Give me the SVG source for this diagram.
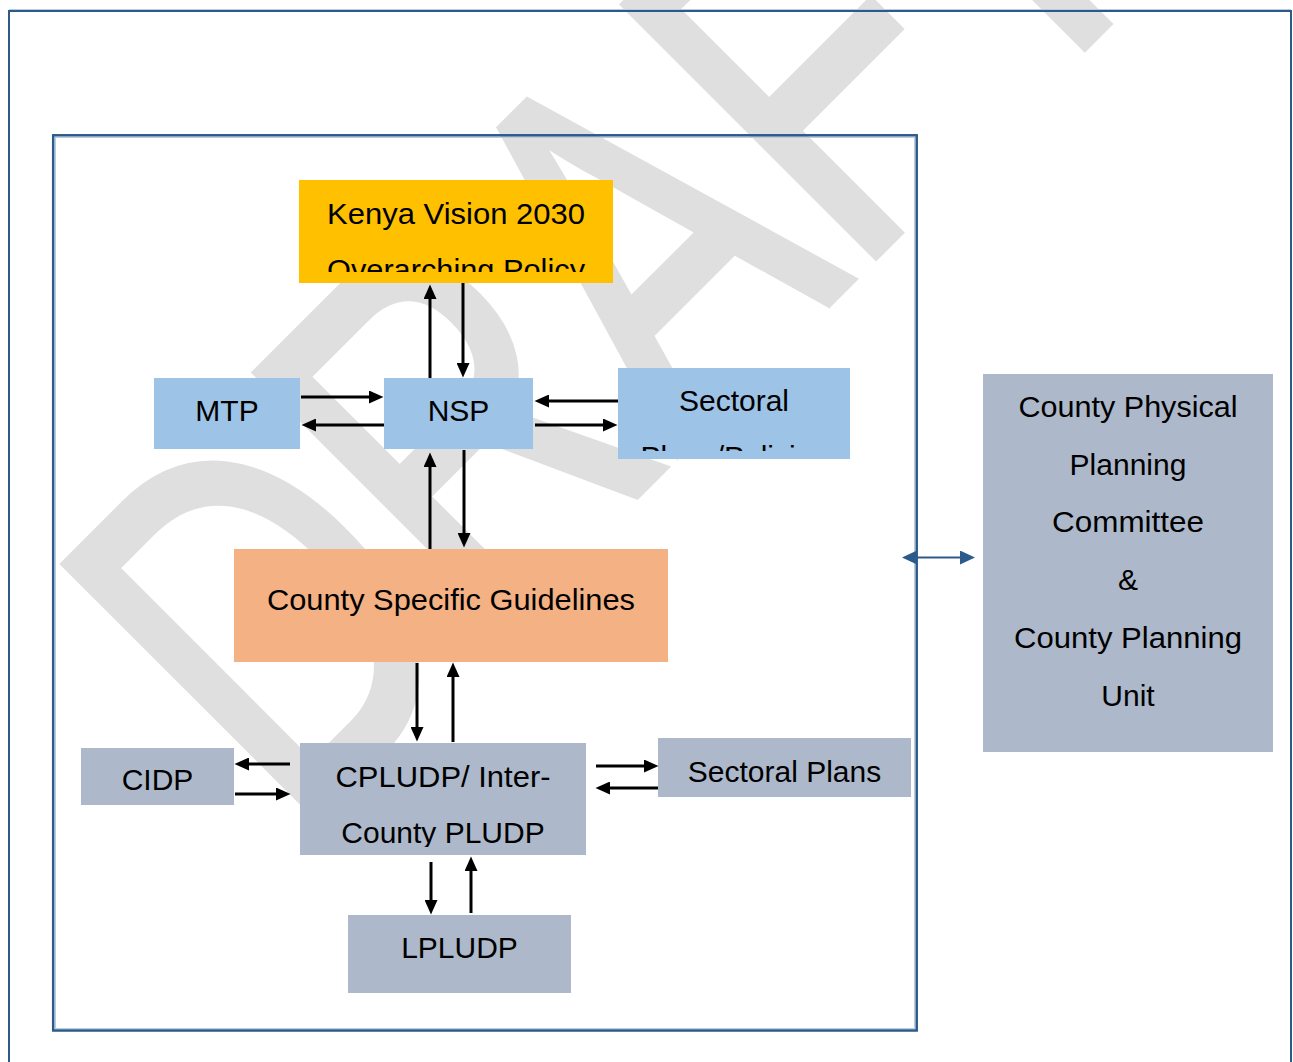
<svg xmlns="http://www.w3.org/2000/svg" width="1293" height="1062" viewBox="0 0 1293 1062">
<style>
.lbl{font-family:"Liberation Sans",Arial,sans-serif;font-size:30px;fill:#000;text-anchor:middle}
.conn{stroke:#000;stroke-width:3;fill:none;marker-end:url(#ah)}
.frame{fill:none;stroke:#2c5a8a}
</style>
<defs>
<marker id="ah" markerWidth="15" markerHeight="13" refX="6" refY="6.5" orient="auto" markerUnits="userSpaceOnUse"><path d="M0,0 L14.5,6.5 L0,13 z" fill="#000"/></marker>
<marker id="bh" markerWidth="15" markerHeight="14" refX="7" refY="7" orient="auto-start-reverse" markerUnits="userSpaceOnUse"><path d="M0,0 L15,7 L0,14 z" fill="#2c5a8a"/></marker>
<clipPath id="cKenya"><rect x="299" y="180" width="314" height="92"/></clipPath>
<clipPath id="cSect"><rect x="618" y="368" width="232" height="83"/></clipPath>
<clipPath id="cCpl"><rect x="300" y="743" width="286" height="104"/></clipPath>
</defs>
<rect width="1293" height="1062" fill="#fff"/>
<g id="watermark">
<text transform="translate(294 838) rotate(-45) scale(0.725 1)" font-family="Liberation Sans" font-size="517" fill="#dfdfdf" stroke="#dfdfdf" stroke-width="8">DRAFT</text>
</g>
<g id="frames">
<line x1="9" y1="9.5" x2="1291" y2="9.5" stroke="#b8cbe0" stroke-width="1"/>
<path class="frame" d="M9,1062 V11 H1291 V1062" stroke-width="2"/>
<rect class="frame" x="53.2" y="135.3" width="863.5" height="895.2" stroke-width="2.5"/>
<rect x="55.5" y="137.5" width="859" height="891" fill="none" stroke="#b8cbe0" stroke-width="1"/>
</g>
<g id="node-kenya">
<rect x="299" y="180" width="314" height="103" fill="#FFC000"/>
<g clip-path="url(#cKenya)">
<text class="lbl" x="456" y="224" textLength="258" lengthAdjust="spacingAndGlyphs">Kenya Vision 2030</text>
<text class="lbl" x="456" y="279.5" textLength="258" lengthAdjust="spacingAndGlyphs">Overarching Policy</text>
</g>
</g>
<g id="node-mtp">
<rect x="154" y="378" width="146" height="71" fill="#9DC3E6"/>
<text class="lbl" x="227" y="421">MTP</text>
</g>
<g id="node-nsp">
<rect x="384" y="378" width="149" height="71" fill="#9DC3E6"/>
<text class="lbl" x="458.5" y="421">NSP</text>
</g>
<g id="node-sectoral-policies">
<rect x="618" y="368" width="232" height="91" fill="#9DC3E6"/>
<g clip-path="url(#cSect)">
<text class="lbl" x="734" y="411">Sectoral</text>
<text class="lbl" x="734" y="466.5">Plans/Policies</text>
</g>
</g>
<g id="node-csg">
<rect x="234" y="549" width="434" height="113" fill="#F4B183"/>
<text class="lbl" x="451" y="610" textLength="368" lengthAdjust="spacingAndGlyphs">County Specific Guidelines</text>
</g>
<g id="node-cidp">
<rect x="81" y="748" width="153" height="57" fill="#ADB9CA"/>
<text class="lbl" x="157.5" y="790">CIDP</text>
</g>
<g id="node-cpludp">
<rect x="300" y="743" width="286" height="112" fill="#ADB9CA"/>
<g clip-path="url(#cCpl)">
<text class="lbl" x="443" y="787" textLength="215" lengthAdjust="spacingAndGlyphs">CPLUDP/ Inter-</text>
<text class="lbl" x="443" y="842.5">County PLUDP</text>
</g>
</g>
<g id="node-sectoral-plans">
<rect x="658" y="738" width="253" height="59" fill="#ADB9CA"/>
<text class="lbl" x="784.5" y="782">Sectoral Plans</text>
</g>
<g id="node-lpludp">
<rect x="348" y="915" width="223" height="78" fill="#ADB9CA"/>
<text class="lbl" x="459.5" y="958">LPLUDP</text>
</g>
<g id="node-committee">
<rect x="983" y="374" width="290" height="378" fill="#ADB9CA"/>
<text class="lbl" x="1128" y="417" textLength="219" lengthAdjust="spacingAndGlyphs">County Physical</text>
<text class="lbl" x="1128" y="475">Planning</text>
<text class="lbl" x="1128" y="532" textLength="152" lengthAdjust="spacingAndGlyphs">Committee</text>
<text class="lbl" x="1128" y="590">&amp;</text>
<text class="lbl" x="1128" y="648" textLength="228" lengthAdjust="spacingAndGlyphs">County Planning</text>
<text class="lbl" x="1128" y="706">Unit</text>
</g>
<g id="connectors">
<line class="conn" x1="430" y1="378" x2="430" y2="293"/>
<line class="conn" x1="463" y1="283" x2="463" y2="369"/>
<line class="conn" x1="301" y1="397" x2="375" y2="397"/>
<line class="conn" x1="384" y1="425" x2="310" y2="425"/>
<line class="conn" x1="618" y1="401" x2="543" y2="401"/>
<line class="conn" x1="535" y1="425" x2="609" y2="425"/>
<line class="conn" x1="430" y1="549" x2="430" y2="461"/>
<line class="conn" x1="464" y1="450" x2="464" y2="539"/>
<line class="conn" x1="417" y1="663" x2="417" y2="733"/>
<line class="conn" x1="453" y1="742" x2="453" y2="671"/>
<line class="conn" x1="290" y1="764" x2="243" y2="764"/>
<line class="conn" x1="235" y1="794" x2="282" y2="794"/>
<line class="conn" x1="596" y1="766" x2="650" y2="766"/>
<line class="conn" x1="658" y1="788" x2="604" y2="788"/>
<line class="conn" x1="431" y1="862" x2="431" y2="906"/>
<line class="conn" x1="471" y1="913" x2="471" y2="865"/>
<line x1="910" y1="557.5" x2="967" y2="557.5" stroke="#2c5a8a" stroke-width="2" marker-start="url(#bh)" marker-end="url(#bh)"/>
</g>
</svg>
